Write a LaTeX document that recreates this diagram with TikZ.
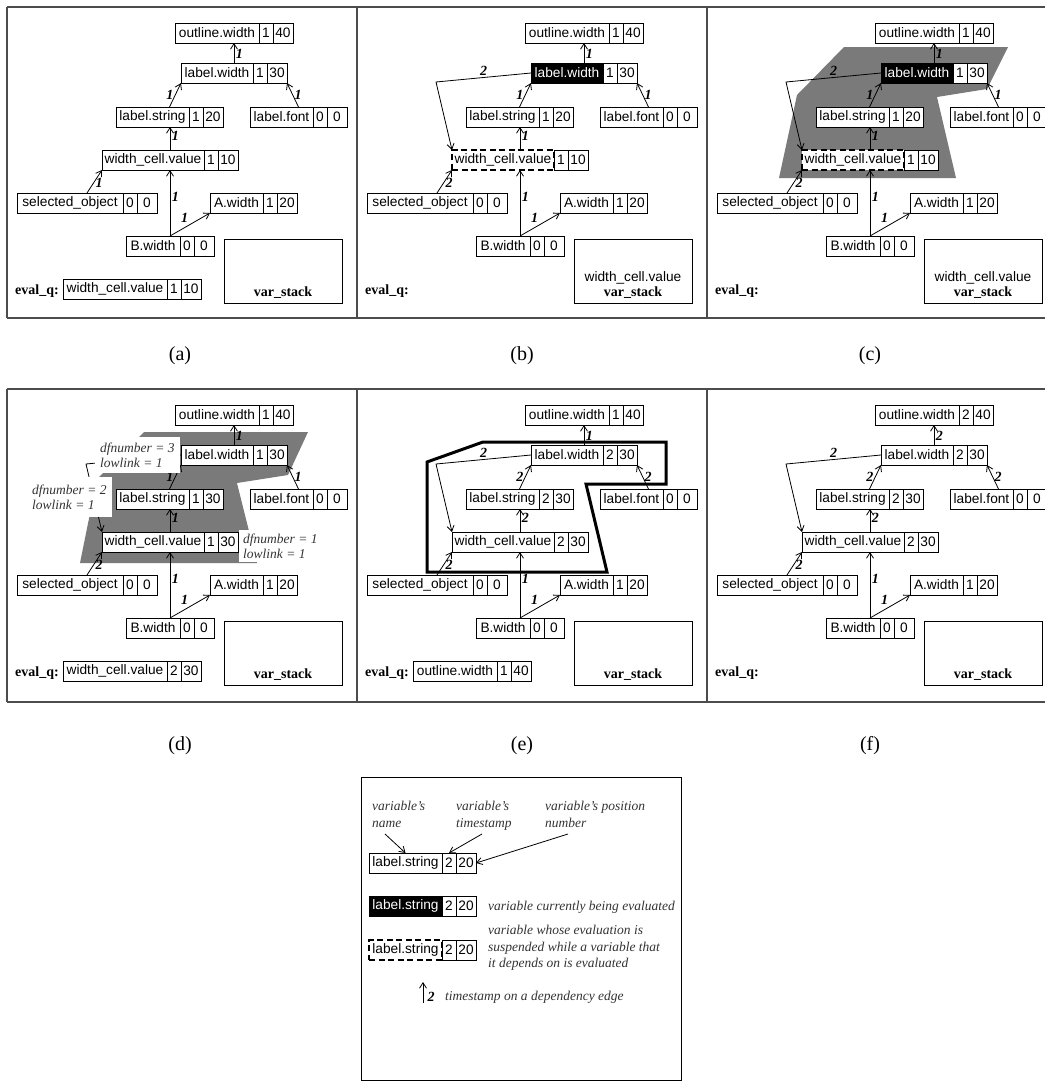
\documentclass[tikz,border=0pt]{standalone}
\usepackage{fontspec}
\setmainfont{Liberation Serif}
\newfontfamily\cellfont{Liberation Sans}
\usetikzlibrary{arrows.meta,fit,calc}

\tikzset{
  cellbase/.style={draw, fill=white, line width=0.8pt, minimum height=20pt,
    inner sep=0pt, outer sep=0pt, font=\cellfont\fontsize{13.7}{15}\selectfont},
  namecell/.style={cellbase},
  tscell/.style={cellbase, minimum width=14pt},
  poscell/.style={cellbase, minimum width=20pt},
  active/.style={fill=black, text=white},
  suspended/.style={line width=2.6pt, dash pattern=on 6pt off 3.5pt},
  dep/.style={line width=0.8pt, -{Straight Barb[length=5.5pt,width=7pt]}},
  elab/.style={font=\bfseries\itshape\fontsize{14}{16}\selectfont, inner sep=1.5pt},
  frameline/.style={draw=black!70, line width=1.5pt},
  caption/.style={font=\fontsize{20}{24}\selectfont},
  boldlab/.style={font=\bfseries\fontsize{14}{16}\selectfont, inner sep=0pt},
  stackbox/.style={draw, line width=0.8pt, minimum width=118pt, minimum height=64pt,
    anchor=north west, inner sep=0pt},
  note/.style={font=\itshape\fontsize{13.5}{16.5}\selectfont, text=black!80,
    align=left, inner sep=0pt},
  dfbox/.style={note, fill=white, anchor=north west,
    inner xsep=5pt, inner ysep=1pt, font=\itshape\fontsize{13.5}{15}\selectfont},
  scc/.style={fill=black!52},
  sccline/.style={line width=3pt, line join=miter},
}

% one variable: name cell, timestamp cell, position cell, and a frame node around them
% #1 style of the name cell, #2 node name, #3,#4 top-left corner, #5 name width,
% #6 name, #7 timestamp, #8 position number
\newcommand{\tsvar}[8][]{%
  \node[namecell, minimum width=#5pt, #1, anchor=north west] (#2-n) at (#3,#4) {#6};
  \node[tscell, anchor=north west] (#2-t) at (#2-n.north east) {#7};
  \node[poscell, anchor=north west] (#2-p) at (#2-t.north east) {#8};
  \node[fit=(#2-n)(#2-p), inner sep=0pt, outer sep=0pt] (#2) {};
}

% the eight variables of the dependency graph
% #1 prefix, #2 outline.width ts, #3 label.width ts, #4 label.width style,
% #5 label.string ts, #6 label.string pos, #7 width_cell.value ts,
% #8 width_cell.value pos, #9 width_cell.value style
\newcommand{\graphnodes}[9]{%
  \tsvar{#1-ow}{168}{16}{84}{outline.width}{#2}{40}
  \tsvar[#4]{#1-lw}{174}{56}{72}{label.width}{#3}{30}
  \tsvar{#1-ls}{109}{100}{73}{label.string}{#5}{#6}
  \tsvar{#1-lf}{243}{100}{63}{label.font}{0}{0}
  \tsvar[#9]{#1-wcv}{95}{143}{102}{width\_cell.value}{#7}{#8}
  \tsvar{#1-sel}{10}{186}{106}{selected\_object}{0}{0}
  \tsvar{#1-aw}{203}{186}{53}{A.width}{1}{20}
  \tsvar{#1-bw}{119}{229}{54}{B.width}{0}{0}
}

% dependency edges with their timestamps
\newcommand{\graphedges}[8]{%
  \draw[dep] (#1-lw.north) -- (#1-lw.north |- #1-ow.south) node[elab, right, pos=0.45] {#2};
  \draw[dep] (#1-ls.north) -- (#1-lw.south west) node[elab, left, pos=0.5] {#3};
  \draw[dep] (#1-lf.north) -- (#1-lw.south east) node[elab, right, pos=0.5] {#4};
  \draw[dep] (#1-wcv.north) -- (#1-wcv.north |- #1-ls.south) node[elab, right, pos=0.6] {#5};
  \draw[dep] (#1-sel.north) -- (#1-wcv.south west) node[elab, right, pos=0.45] {#6};
  \draw[dep] (#1-bw.north) -- (#1-bw.north |- #1-wcv.south) node[elab, right, pos=0.6] {#7};
  \draw[dep] (#1-bw.north) -- (#1-aw.south west) node[elab, above left, pos=0.5] {#8};
}

% the cyclic edge from label.width back to width_cell.value; #1 its timestamp
\newcommand{\backedge}[2][2]{%
  \coordinate (#2-bend) at (79,75);
  \draw[dep] (#2-lw.west) -- node[elab, above] {#1} (#2-bend) -- (#2-wcv.north west);
}

% eval_q label and the var_stack box
\newcommand{\bottomparts}[2]{%
  \node[boldlab, anchor=base west] (#1-eq) at (8,287) {eval\_q:};
  \node[stackbox] (#1-vs) at (217,232) {};
  \node[boldlab, anchor=base] (#1-vsl) at (276,289) {var\_stack};
  \node[cellbase, draw=none, fill=none, anchor=base] (#1-vsc) at (276,274) {#2};
}

\begin{document}
\begin{tikzpicture}[x=1pt, y=-1pt]
\useasboundingbox (0,0) rectangle (1045,1088);

% panel frames
\draw[frameline] (7,7) -- (1045,7);
\draw[frameline] (7,318) -- (1045,318);
\draw[frameline] (7,7) -- (7,318);
\draw[frameline] (357,7) -- (357,318);
\draw[frameline] (707,7) -- (707,318);
\draw[frameline] (7,389) -- (1045,389);
\draw[frameline] (7,702) -- (1045,702);
\draw[frameline] (7,389) -- (7,702);
\draw[frameline] (357,389) -- (357,702);
\draw[frameline] (707,389) -- (707,702);

% (a)
\begin{scope}[shift={(7,7)}]
  \graphnodes{a}{1}{1}{}{1}{20}{1}{10}{}
  \graphedges{a}{1}{1}{1}{1}{1}{1}{1}
  \bottomparts{a}{}
  \tsvar{a-q}{56}{272}{104}{width\_cell.value}{1}{10}
\end{scope}

% (b)
\begin{scope}[shift={(357,7)}]
  \graphnodes{b}{1}{1}{active}{1}{20}{1}{10}{suspended}
  \graphedges{b}{1}{1}{1}{1}{2}{1}{1}
  \backedge{b}
  \bottomparts{b}{width\_cell.value}
\end{scope}

% (c)
\begin{scope}[shift={(707,7)}]
  \fill[scc] (137,40) -- (301,40) -- (280,82) -- (230,90) -- (249,171)
    -- (72,171) -- (90,88) -- cycle;
  \graphnodes{c}{1}{1}{active}{1}{20}{1}{10}{suspended}
  \graphedges{c}{1}{1}{1}{1}{2}{1}{1}
  \backedge{c}
  \bottomparts{c}{width\_cell.value}
\end{scope}

% (d)
\begin{scope}[shift={(7,389)}]
  \fill[scc] (137,43) -- (301,43) -- (281,86) -- (230,94) -- (250,174)
    -- (73,174) -- (90,90) -- cycle;
  \graphnodes{d}{1}{1}{}{1}{30}{1}{30}{}
  \graphedges{d}{1}{1}{1}{1}{2}{1}{1}
  \backedge[]{d}
  \bottomparts{d}{}
  \tsvar{d-q}{56}{272}{104}{width\_cell.value}{2}{30}
  \node[dfbox, minimum height=36pt] (d-df3) at (88,48) {dfnumber = 3\\lowlink = 1};
  \node[dfbox, minimum height=40pt] (d-df2) at (20,88) {dfnumber = 2\\lowlink = 1};
  \node[dfbox, inner xsep=4pt, minimum height=32pt] (d-df1) at (232,141) {dfnumber = 1\\lowlink = 1};
\end{scope}

% (e)
\begin{scope}[shift={(357,389)}]
  \draw[sccline] (126,53) -- (309,53) -- (309,95) -- (229,95) -- (250,183)
    -- (70,183) -- (70,73) -- cycle;
  \graphnodes{e}{1}{2}{}{2}{30}{2}{30}{}
  \graphedges{e}{1}{2}{2}{2}{2}{1}{1}
  \backedge{e}
  \bottomparts{e}{}
  \tsvar{e-q}{56}{272}{84}{outline.width}{1}{40}
\end{scope}

% (f)
\begin{scope}[shift={(707,389)}]
  \graphnodes{f}{2}{2}{}{2}{30}{2}{30}{}
  \graphedges{f}{2}{2}{2}{2}{2}{1}{1}
  \backedge{f}
  \bottomparts{f}{}
\end{scope}

% captions
\node[caption] (cap-a) at (180,356) {(a)};
\node[caption] (cap-b) at (522,356) {(b)};
\node[caption] (cap-c) at (870,356) {(c)};
\node[caption] (cap-d) at (180,746) {(d)};
\node[caption] (cap-e) at (522,746) {(e)};
\node[caption] (cap-f) at (870,746) {(f)};

% legend
\node[draw, line width=0.8pt, minimum width=320pt, minimum height=303pt,
  anchor=north west, inner sep=0pt] (legend) at (361,777) {};
\node[note, anchor=north west] (ln-name) at (372,801) {variable's\\name};
\node[note, anchor=north west] (ln-ts) at (456,801) {variable's\\timestamp};
\node[note, anchor=north west] (ln-pos) at (545,801) {variable's position\\number};
\tsvar{lg1}{369}{853}{73}{label.string}{2}{20}
\tsvar[active]{lg2}{369}{896}{73}{label.string}{2}{20}
\tsvar[suspended]{lg3}{369}{940}{73}{label.string}{2}{20}
\coordinate (ln-a1) at (385,834);
\coordinate (ln-a2) at (482,834);
\coordinate (ln-a3) at (568,834);
\draw[dep] (ln-a1) -- (lg1-n.north);
\draw[dep] (ln-a2) -- (lg1-t.north);
\draw[dep] (ln-a3) -- (lg1-p.east);
\node[note, anchor=west] (ln-cur) at (488,907) {variable currently being evaluated};
\node[note, anchor=north west] (ln-susp) at (488,925)
  {variable whose evaluation is\\suspended while a variable that\\it depends on is evaluated};
\coordinate (lg-e0) at (423,1003);
\coordinate (lg-e1) at (423,982);
\draw[dep] (lg-e0) -- (lg-e1);
\node[elab, anchor=west] (lg-e2) at (426,997) {2};
\node[note, anchor=west] (ln-edge) at (445,997) {timestamp on a dependency edge};

\end{tikzpicture}
\end{document}
